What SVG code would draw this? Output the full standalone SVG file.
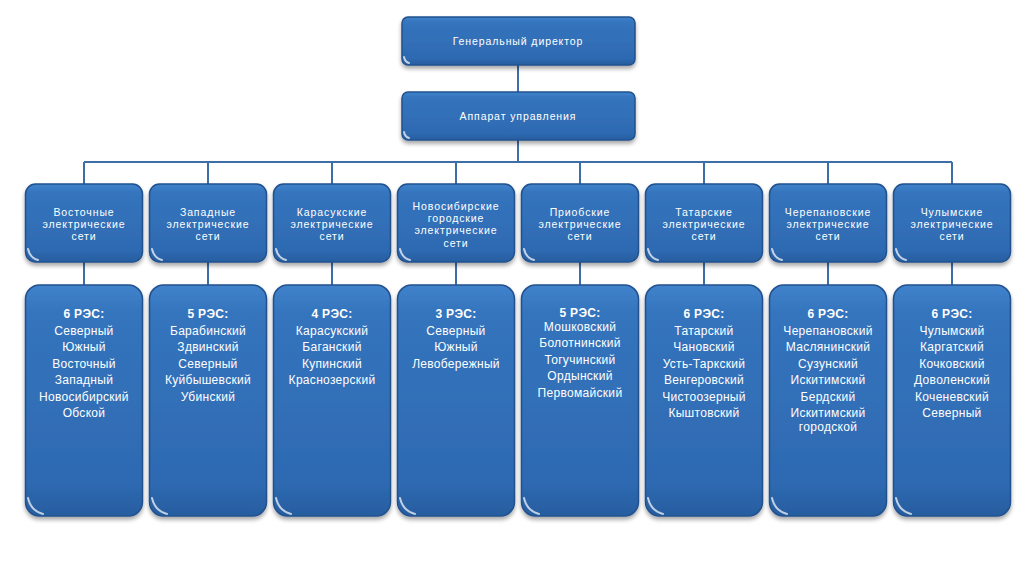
<svg xmlns="http://www.w3.org/2000/svg" width="1024" height="574" viewBox="0 0 1024 574">
<style>
.box{fill:url(#g);stroke:#22518e;stroke-width:1.5;filter:url(#sh)}
.gl{fill:none;stroke:#ffffff;stroke-opacity:0.7;stroke-width:2;stroke-linecap:round}
.t{font-family:"Liberation Sans",Arial,sans-serif;font-size:10.5px;fill:#ffffff;text-anchor:middle;letter-spacing:0.9px}
.r{font-family:"Liberation Sans",Arial,sans-serif;font-size:12px;fill:#ffffff;text-anchor:middle;letter-spacing:0.3px}
.b{font-weight:700}
.c{fill:none;stroke:#3d6ea8;stroke-width:2}
</style>
<defs>
<linearGradient id="g" x1="0" y1="0" x2="0" y2="1">
<stop offset="0" stop-color="#4083cb"/>
<stop offset="0.12" stop-color="#3474bd"/>
<stop offset="0.85" stop-color="#2e6ab2"/>
<stop offset="1" stop-color="#275d9f"/>
</linearGradient>
<filter id="sh" x="-10%" y="-10%" width="120%" height="125%">
<feGaussianBlur in="SourceAlpha" stdDeviation="2"/>
<feOffset dx="0" dy="3" result="o"/>
<feComponentTransfer><feFuncA type="linear" slope="0.35"/></feComponentTransfer>
<feMerge><feMergeNode/><feMergeNode in="SourceGraphic"/></feMerge>
</filter>
</defs>
<rect width="1024" height="574" fill="#ffffff"/>
<g id="connectors">
<path class="c" d="M518 65V92M518 140V162M84 162H952M84 162V184M208 162V184M332 162V184M456 162V184M580 162V184M704 162V184M828 162V184M952 162V184"/>
<path class="c" d="M84 262V285M208 262V285M332 262V285M456 262V285M580 262V285M704 262V285M828 262V285M952 262V285"/>
</g>
<g id="gen"><rect class="box" x="402" y="17" width="233" height="48" rx="6"/><path class="gl" d="M404 57q1 5 5 6"/><text class="t" x="518" y="45">Генеральный директор</text></g>
<g id="apparat"><rect class="box" x="402" y="92" width="233" height="48" rx="6"/><path class="gl" d="M404 132q1 5 5 6"/><text class="t" x="518" y="120">Аппарат управления</text></g>

<g id="n1"><rect class="box" x="25.5" y="184" width="117" height="78" rx="10"/><path class="gl" d="M28 249q2 9 10 11"/><text class="t" x="84"><tspan x="84" y="216">Восточные</tspan><tspan x="84" y="228.2">электрические</tspan><tspan x="84" y="240.4">сети</tspan></text></g>
<g id="n2"><rect class="box" x="149.5" y="184" width="117" height="78" rx="10"/><path class="gl" d="M152 249q2 9 10 11"/><text class="t" x="208"><tspan x="208" y="216">Западные</tspan><tspan x="208" y="228.2">электрические</tspan><tspan x="208" y="240.4">сети</tspan></text></g>
<g id="n3"><rect class="box" x="273.5" y="184" width="117" height="78" rx="10"/><path class="gl" d="M276 249q2 9 10 11"/><text class="t" x="332"><tspan x="332" y="216">Карасукские</tspan><tspan x="332" y="228.2">электрические</tspan><tspan x="332" y="240.4">сети</tspan></text></g>
<g id="n4"><rect class="box" x="397.5" y="184" width="117" height="78" rx="10"/><path class="gl" d="M400 249q2 9 10 11"/><text class="t" x="456"><tspan x="456" y="210">Новосибирские</tspan><tspan x="456" y="222.2">городские</tspan><tspan x="456" y="234.4">электрические</tspan><tspan x="456" y="246.6">сети</tspan></text></g>
<g id="n5"><rect class="box" x="521.5" y="184" width="117" height="78" rx="10"/><path class="gl" d="M524 249q2 9 10 11"/><text class="t" x="580"><tspan x="580" y="216">Приобские</tspan><tspan x="580" y="228.2">электрические</tspan><tspan x="580" y="240.4">сети</tspan></text></g>
<g id="n6"><rect class="box" x="645.5" y="184" width="117" height="78" rx="10"/><path class="gl" d="M648 249q2 9 10 11"/><text class="t" x="704"><tspan x="704" y="216">Татарские</tspan><tspan x="704" y="228.2">электрические</tspan><tspan x="704" y="240.4">сети</tspan></text></g>
<g id="n7"><rect class="box" x="769.5" y="184" width="117" height="78" rx="10"/><path class="gl" d="M772 249q2 9 10 11"/><text class="t" x="828"><tspan x="828" y="216">Черепановские</tspan><tspan x="828" y="228.2">электрические</tspan><tspan x="828" y="240.4">сети</tspan></text></g>
<g id="n8"><rect class="box" x="893.5" y="184" width="117" height="78" rx="10"/><path class="gl" d="M896 249q2 9 10 11"/><text class="t" x="952"><tspan x="952" y="216">Чулымские</tspan><tspan x="952" y="228.2">электрические</tspan><tspan x="952" y="240.4">сети</tspan></text></g>

<g id="r1"><rect class="box" x="25.5" y="285" width="117" height="231" rx="14"/><path class="gl" d="M28 498q3 13 15 16"/><text class="r"><tspan class="b" x="84" y="318">6 РЭС:</tspan><tspan x="84" y="334.5">Северный</tspan><tspan x="84" y="351">Южный</tspan><tspan x="84" y="367.5">Восточный</tspan><tspan x="84" y="384">Западный</tspan><tspan x="84" y="400.5">Новосибирский</tspan><tspan x="84" y="417">Обской</tspan></text></g>
<g id="r2"><rect class="box" x="149.5" y="285" width="117" height="231" rx="14"/><path class="gl" d="M152 498q3 13 15 16"/><text class="r"><tspan class="b" x="208" y="318">5 РЭС:</tspan><tspan x="208" y="334.5">Барабинский</tspan><tspan x="208" y="351">Здвинский</tspan><tspan x="208" y="367.5">Северный</tspan><tspan x="208" y="384">Куйбышевский</tspan><tspan x="208" y="400.5">Убинский</tspan></text></g>
<g id="r3"><rect class="box" x="273.5" y="285" width="117" height="231" rx="14"/><path class="gl" d="M276 498q3 13 15 16"/><text class="r"><tspan class="b" x="332" y="318">4 РЭС:</tspan><tspan x="332" y="334.5">Карасукский</tspan><tspan x="332" y="351">Баганский</tspan><tspan x="332" y="367.5">Купинский</tspan><tspan x="332" y="384">Краснозерский</tspan></text></g>
<g id="r4"><rect class="box" x="397.5" y="285" width="117" height="231" rx="14"/><path class="gl" d="M400 498q3 13 15 16"/><text class="r"><tspan class="b" x="456" y="318">3 РЭС:</tspan><tspan x="456" y="334.5">Северный</tspan><tspan x="456" y="351">Южный</tspan><tspan x="456" y="367.5">Левобережный</tspan></text></g>
<g id="r5"><rect class="box" x="521.5" y="285" width="117" height="231" rx="14"/><path class="gl" d="M524 498q3 13 15 16"/><text class="r"><tspan class="b" x="580" y="317">5 РЭС:</tspan><tspan x="580" y="331">Мошковский</tspan><tspan x="580" y="347">Болотнинский</tspan><tspan x="580" y="363.5">Тогучинский</tspan><tspan x="580" y="380">Ордынский</tspan><tspan x="580" y="396.5">Первомайский</tspan></text></g>
<g id="r6"><rect class="box" x="645.5" y="285" width="117" height="231" rx="14"/><path class="gl" d="M648 498q3 13 15 16"/><text class="r"><tspan class="b" x="704" y="318">6 РЭС:</tspan><tspan x="704" y="334.5">Татарский</tspan><tspan x="704" y="351">Чановский</tspan><tspan x="704" y="367.5">Усть-Таркский</tspan><tspan x="704" y="384">Венгеровский</tspan><tspan x="704" y="400.5">Чистоозерный</tspan><tspan x="704" y="417">Кыштовский</tspan></text></g>
<g id="r7"><rect class="box" x="769.5" y="285" width="117" height="231" rx="14"/><path class="gl" d="M772 498q3 13 15 16"/><text class="r"><tspan class="b" x="828" y="318">6 РЭС:</tspan><tspan x="828" y="334.5">Черепановский</tspan><tspan x="828" y="351">Маслянинский</tspan><tspan x="828" y="367.5">Сузунский</tspan><tspan x="828" y="384">Искитимский</tspan><tspan x="828" y="400.5">Бердский</tspan><tspan x="828" y="416.5">Искитимский</tspan><tspan x="828" y="430.5">городской</tspan></text></g>
<g id="r8"><rect class="box" x="893.5" y="285" width="117" height="231" rx="14"/><path class="gl" d="M896 498q3 13 15 16"/><text class="r"><tspan class="b" x="952" y="318">6 РЭС:</tspan><tspan x="952" y="334.5">Чулымский</tspan><tspan x="952" y="351">Каргатский</tspan><tspan x="952" y="367.5">Кочковский</tspan><tspan x="952" y="384">Доволенский</tspan><tspan x="952" y="400.5">Коченевский</tspan><tspan x="952" y="417">Северный</tspan></text></g>
</svg>
